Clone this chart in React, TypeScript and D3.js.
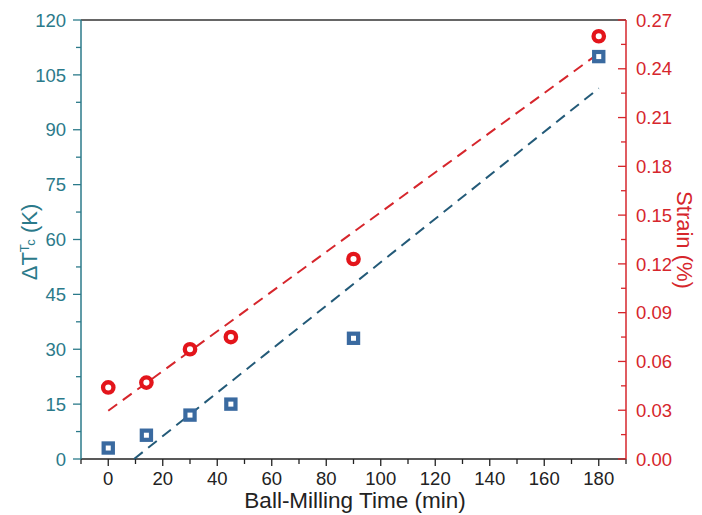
import React from "react";
import * as d3 from "d3";

const millingTime = [0, 14, 30, 45, 90, 180];
const deltaT = [3, 6.5, 12, 15, 33, 110];
const strain = [0.044, 0.047, 0.0675, 0.075, 0.123, 0.26];
const xTicks = [0, 20, 40, 60, 80, 100, 120, 140, 160, 180];
const yLeftTicks = [0, 15, 30, 45, 60, 75, 90, 105, 120];
const yRightTicks = [0, 0.03, 0.06, 0.09, 0.12, 0.15, 0.18, 0.21, 0.24, 0.27];

const W = 702, H = 515;
const M = { left: 81, right: 626, top: 20, bottom: 459 };

function linFit(xs: number[], ys: number[]) {
  const mx = d3.mean(xs)!, my = d3.mean(ys)!;
  let sxy = 0, sxx = 0;
  xs.forEach((x, i) => { sxy += (x - mx) * (ys[i] - my); sxx += (x - mx) ** 2; });
  const b = sxy / sxx;
  return { a: my - b * mx, b };
}

export default function App() {
  const x = d3.scaleLinear().domain([-10, 190]).range([M.left, M.right]);
  const yL = d3.scaleLinear().domain([0, 120]).range([M.bottom, M.top]);
  const yR = d3.scaleLinear().domain([0, 0.27]).range([M.bottom, M.top]);

  const teal = "#2b7a8a";
  const red = "#d6262c";
  const blue = "#3a6aa0";
  const font = "Arial, 'Liberation Sans', sans-serif";
  const tickFs = 18.5;

  const fL = linFit(millingTime, deltaT);
  const fR = linFit(millingTime, strain);
  const x0L = -fL.a / fL.b;
  const line = d3.line<[number, number]>();
  const blueLine = line([[x(x0L), yL(0)], [x(180), yL(fL.a + fL.b * 180)]]);
  const redLine = line([[x(0), yR(fR.a)], [x(180), yR(fR.a + fR.b * 180)]]);

  const xMinor = d3.range(-10, 191, 10);
  const yLMinor = d3.range(0, 121, 7.5);
  const yRMinor = d3.range(0, 0.2701, 0.015);

  return (
    <svg width={W} height={H} style={{ position: "absolute", left: 0, top: 0, background: "#fff" }} fontFamily={font}>
      {/* top border */}
      <line x1={M.left} x2={M.right} y1={M.top} y2={M.top} stroke="#333" strokeWidth={1.5} />
      {/* bottom axis */}
      <line x1={M.left} x2={M.right} y1={M.bottom} y2={M.bottom} stroke="#222" strokeWidth={1.5} />
      {xMinor.map((v) => {
        const major = xTicks.includes(v);
        return <line key={"xm" + v} x1={x(v)} x2={x(v)} y1={M.bottom} y2={M.bottom + (major ? 7 : 5)} stroke="#222" strokeWidth={1.3} />;
      })}
      {xTicks.map((v) => (
        <text key={"xt" + v} x={x(v)} y={485} fontSize={tickFs} textAnchor="middle" fill="#222">{v}</text>
      ))}
      <text x={355} y={507.5} fontSize={22.5} textAnchor="middle" fill="#222">Ball-Milling Time (min)</text>

      {/* left axis */}
      <line x1={M.left} x2={M.left} y1={M.top} y2={M.bottom} stroke={teal} strokeWidth={1.5} />
      {yLMinor.map((v) => {
        const major = yLeftTicks.includes(v);
        return <line key={"ylm" + v} x1={M.left - (major ? 8 : 5)} x2={M.left} y1={yL(v)} y2={yL(v)} stroke={teal} strokeWidth={1.3} />;
      })}
      {yLeftTicks.map((v) => (
        <text key={"ylt" + v} x={M.left - 15} y={yL(v) + 6.7} fontSize={tickFs} textAnchor="end" fill={teal}>{v}</text>
      ))}
      <text transform={`translate(37,242) rotate(-90)`} fontSize={22} textAnchor="middle" fill={teal}>
        ΔT<tspan fontSize={13} dy={-8}>T</tspan><tspan fontSize={13} dy={6}>c</tspan><tspan dy={2}> (K)</tspan>
      </text>

      {/* right axis */}
      <line x1={M.right} x2={M.right} y1={M.top} y2={M.bottom} stroke={red} strokeWidth={1.5} />
      {yRMinor.map((v, i) => {
        const major = i % 2 === 0;
        return <line key={"yrm" + i} x1={M.right - (major ? 8 : 5)} x2={M.right} y1={yR(v)} y2={yR(v)} stroke={red} strokeWidth={1.3} />;
      })}
      {yRightTicks.map((v) => (
        <text key={"yrt" + v} x={M.right + 10} y={yR(v) + 6.7} fontSize={tickFs} textAnchor="start" fill={red}>{v.toFixed(2)}</text>
      ))}
      <text transform={`translate(677,240) rotate(90)`} fontSize={22} textAnchor="middle" fill={red}>Strain (%)</text>

      {/* fit lines */}
      <path d={redLine!} stroke={red} strokeWidth={2} strokeDasharray="11,7" fill="none" />
      <path d={blueLine!} stroke="#235a78" strokeWidth={2} strokeDasharray="11,7" fill="none" />

      {/* markers */}
      {millingTime.map((t, i) => (
        <rect key={"sq" + i} x={x(t) - 4.6} y={yL(deltaT[i]) - 4.6} width={9.2} height={9.2} fill="#fff" stroke={blue} strokeWidth={4.2} />
      ))}
      {millingTime.map((t, i) => (
        <circle key={"c" + i} cx={x(t)} cy={yR(strain[i])} r={5.2} fill="#fff" stroke="#e3151b" strokeWidth={4.3} />
      ))}
    </svg>
  );
}
